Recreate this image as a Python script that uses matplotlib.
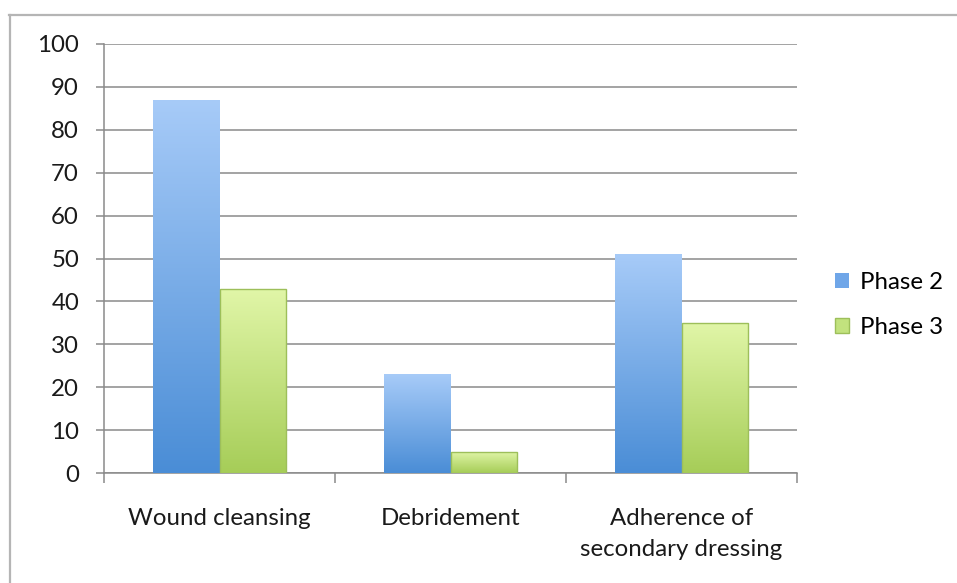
import numpy as np
import matplotlib
matplotlib.use("Agg")
import matplotlib.pyplot as plt
from matplotlib.colors import LinearSegmentedColormap
from matplotlib.patches import Patch
from matplotlib.lines import Line2D

categories = ["Wound cleansing", "Debridement", "Adherence of\nsecondary dressing"]
series_names = ["Phase 2", "Phase 3"]
phase2 = [87, 23, 51]
phase3 = [43, 5, 35]
y_ticks = [0, 10, 20, 30, 40, 50, 60, 70, 80, 90, 100]

plt.rcParams["font.family"] = ["Lato", "DejaVu Sans"]
FS = 17.3

W, H = 957, 583
fig = plt.figure(figsize=(W / 100, H / 100), dpi=100)
fig.patch.set_facecolor("white")

# outer chart frame (top and left edges)
fig.add_artist(Line2D([9 / W, 1.0], [1 - 14.5 / H, 1 - 14.5 / H], color="#b5b5b5", lw=1.6,
                      transform=fig.transFigure))
fig.add_artist(Line2D([9.5 / W, 9.5 / W], [0, 1 - 14.5 / H], color="#b5b5b5", lw=1.6,
                      transform=fig.transFigure))

ax = fig.add_axes([104 / W, 1 - 473 / H, (797 - 104) / W, (473 - 44) / H])

x = np.arange(len(categories))
bw = 0.288
blue_cmap = LinearSegmentedColormap.from_list("blue", ["#4a8dd6", "#a7cbf8"])
green_cmap = LinearSegmentedColormap.from_list("green", ["#a6cd58", "#e1f6a8"])

ax.set_xlim(-0.5, len(categories) - 0.5)
ax.set_ylim(0, 100)

bars2 = ax.bar(x - bw / 2, phase2, width=bw, color="none", edgecolor="none", zorder=3)
bars3 = ax.bar(x + bw / 2, phase3, width=bw, color="none", edgecolor="#9dbf5a", lw=1.0, zorder=4)

grad = np.linspace(0, 1, 256).reshape(-1, 1)
for bars, cmap in ((bars2, blue_cmap), (bars3, green_cmap)):
    for b in bars:
        x0, w, h = b.get_x(), b.get_width(), b.get_height()
        im = ax.imshow(grad, cmap=cmap, origin="lower", aspect="auto",
                       extent=(x0, x0 + w, 0, h), zorder=3, interpolation="bilinear")
        im.set_clip_path(b)
ax.set_xlim(-0.5, len(categories) - 0.5)
ax.set_ylim(0, 100)

ax.set_yticks(y_ticks)
ax.set_yticklabels([str(v) for v in y_ticks], fontsize=FS, color="#1a1a1a")
ax.yaxis.grid(True, color="#8a8a8a", lw=1.1)
ax.set_axisbelow(True)
ax.tick_params(axis="y", length=6, width=1.1, color="#8a8a8a", pad=12)

# category boundary ticks on the x axis
ax.set_xticks(np.arange(len(categories) + 1) - 0.5)
ax.set_xticklabels([])
ax.tick_params(axis="x", length=7, width=1.1, color="#8a8a8a")
ax.set_xticks(x, minor=True)
ax.set_xticklabels(categories, minor=True, fontsize=FS, color="#1a1a1a", linespacing=1.62)
ax.tick_params(axis="x", which="minor", length=0, pad=25)

for side in ("top", "right"):
    ax.spines[side].set_visible(False)
for side in ("left", "bottom"):
    ax.spines[side].set_color("#8a8a8a")
    ax.spines[side].set_linewidth(1.1)

handles = [Patch(facecolor="#6fa6e8", edgecolor="none"),
           Patch(facecolor="#c2e27e", edgecolor="#9dbf5a")]
fig.legend(handles, series_names, loc="center left", bbox_to_anchor=(823 / W, 1 - 305 / H),
           frameon=False, fontsize=FS, handlelength=0.6, handleheight=0.6,
           handletextpad=0.45, labelspacing=0.98, borderpad=0)

fig.savefig("out.png", dpi=100, facecolor="white")
